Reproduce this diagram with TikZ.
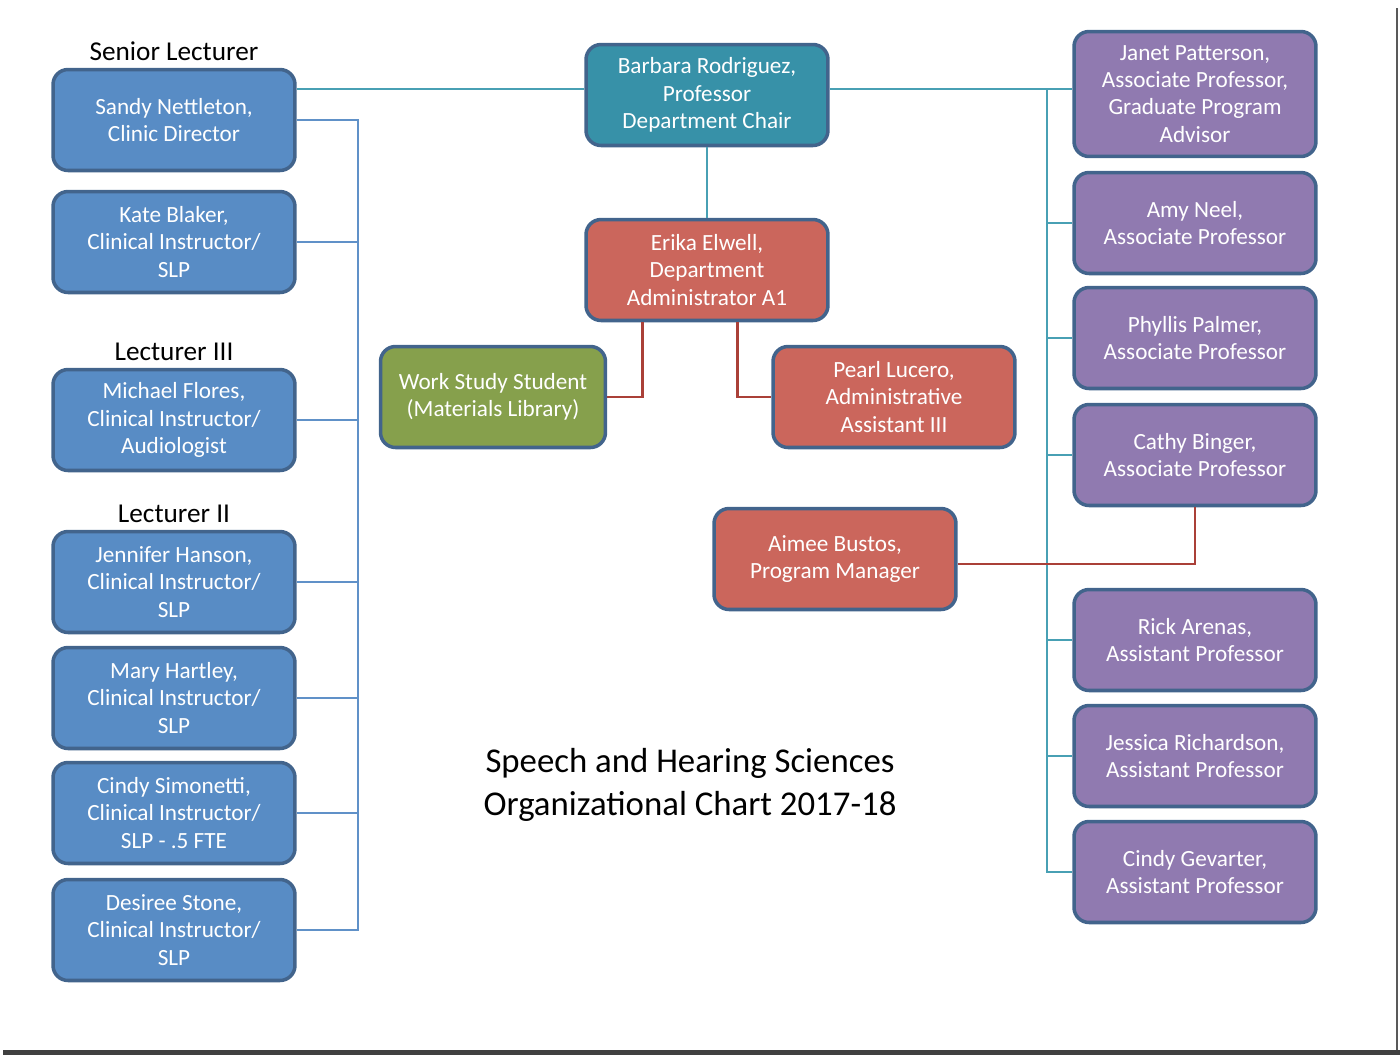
\documentclass[tikz,border=0pt]{standalone}
\usepackage{fontspec}
\setmainfont{Carlito}
\usepackage{xcolor}
\usepackage{tikz}
\usetikzlibrary{positioning}

\definecolor{boxedge}{RGB}{66,100,140}
\definecolor{lectblue}{RGB}{88,140,197}
\definecolor{chairteal}{RGB}{55,145,168}
\definecolor{staffred}{RGB}{203,102,92}
\definecolor{studgreen}{RGB}{134,160,76}
\definecolor{profpurple}{RGB}{144,122,176}
\definecolor{tealline}{RGB}{72,160,180}
\definecolor{blueline}{RGB}{96,145,200}
\definecolor{redline}{RGB}{170,64,56}

\begin{document}
\begin{tikzpicture}[
    x=0.02cm, y=-0.02cm,
    person/.style={
        rectangle,
        rounded corners=0.3cm,
        draw=boxedge,
        line width=2pt,
        text=white,
        align=center,
        minimum width=4.84cm,
        minimum height=2.02cm,
        inner sep=2pt,
        font=\fontsize{13.2}{15.5}\selectfont
    },
    lect/.style={person, fill=lectblue},
    prof/.style={person, fill=profpurple},
    staff/.style={person, fill=staffred},
    rank/.style={font=\fontsize{15.5}{18}\selectfont, inner sep=1pt},
    tline/.style={draw=tealline, line width=1.6pt},
    bline/.style={draw=blueline, line width=1.6pt},
    rline/.style={draw=redline, line width=1.6pt}
]
\useasboundingbox (0,0) rectangle (1400,1055);

% Lecturers
\node[lect] (sandy) at (174,120) {Sandy Nettleton,\\Clinic Director};
\node[lect] (kate) at (174,242) {Kate Blaker,\\Clinical Instructor/\\SLP};
\node[lect] (michael) at (174,420) {Michael Flores,\\Clinical Instructor/\\Audiologist};
\node[lect] (jennifer) at (174,582) {Jennifer Hanson,\\Clinical Instructor/\\SLP};
\node[lect] (mary) at (174,698) {Mary Hartley,\\Clinical Instructor/\\SLP};
\node[lect] (cindys) at (174,813) {Cindy Simonetti,\\Clinical Instructor/\\SLP - .5 FTE};
\node[lect] (desiree) at (174,930) {Desiree Stone,\\Clinical Instructor/\\SLP};

\node[rank, above=3pt of sandy] (senior) {Senior Lecturer};
\node[rank, above=3pt of michael] (lectiii) {Lecturer III};
\node[rank, above=3pt of jennifer] (lectii) {Lecturer II};

% Chair and staff
\node[person, fill=chairteal] (barbara) at (707,95) {Barbara Rodriguez,\\Professor\\Department Chair};
\node[staff] (erika) at (707,270) {Erika Elwell,\\Department\\Administrator A1};
\node[person, fill=studgreen, minimum width=4.5cm] (work) at (493,397) {Work Study Student\\(Materials Library)};
\node[staff] (pearl) at (894,397) {Pearl Lucero,\\Administrative\\Assistant III};
\node[staff] (aimee) at (835,559) {Aimee Bustos,\\Program Manager};

% Professors
\node[prof, minimum height=2.5cm] (janet) at (1195,94) {Janet Patterson,\\Associate Professor,\\Graduate Program\\Advisor};
\node[prof] (amy) at (1195,223) {Amy Neel,\\Associate Professor};
\node[prof] (phyllis) at (1195,338) {Phyllis Palmer,\\Associate Professor};
\node[prof] (cathy) at (1195,455) {Cathy Binger,\\Associate Professor};
\node[prof] (rick) at (1195,640) {Rick Arenas,\\Assistant Professor};
\node[prof] (jessica) at (1195,756) {Jessica Richardson,\\Assistant Professor};
\node[prof] (cindyg) at (1195,872) {Cindy Gevarter,\\Assistant Professor};

% Title
\node[align=center, font=\fontsize{19.8}{24.5}\selectfont] (title) at (690,785)
    {Speech and Hearing Sciences\\Organizational Chart 2017-18};

% Lines
\coordinate (top) at (0,89);
\coordinate (lbus) at (358,0);
\coordinate (rbus) at (1047,0);

\draw[tline] (sandy.east |- top) -- (barbara.west |- top);
\draw[tline] (barbara.east |- top) -- (janet.west |- top);
\draw[tline] (rbus |- top) -- (rbus |- cindyg.west) -- (cindyg.west);
\foreach \p in {amy, phyllis, cathy, rick, jessica}
    \draw[tline] (rbus |- \p.west) -- (\p.west);
\draw[tline] (barbara.south) -- (erika.north);

\draw[bline] (sandy.east) -- (lbus |- sandy.east) -- (lbus |- desiree.east) -- (desiree.east);
\foreach \p in {kate, michael, jennifer, mary, cindys}
    \draw[bline] (\p.east) -- (lbus |- \p.east);

\draw[rline] ([xshift=-1.29cm]erika.south) |- (work.east);
\draw[rline] ([xshift=0.61cm]erika.south) |- (pearl.west);
\draw[rline] ([yshift=-0.1cm]aimee.east) -| (cathy.south);

% Page edges
\draw[gray!70!black, line width=1pt] (1397,8) -- (1397,1050);
\fill[black!75] (3,1050) rectangle (1400,1055);
\end{tikzpicture}
\end{document}
